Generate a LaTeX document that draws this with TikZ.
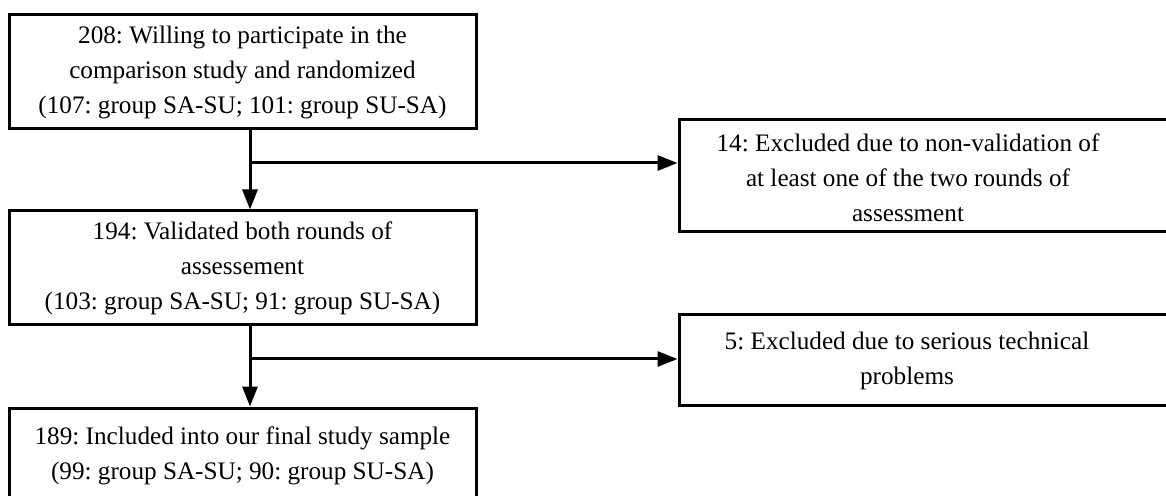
\documentclass[tikz,border=0pt]{standalone}
\usepackage{fontspec}
\setmainfont{Liberation Serif}
\usetikzlibrary{arrows.meta}
\frenchspacing
\begin{document}
\begin{tikzpicture}[x=0.5pt,y=-0.5pt,
  box/.style={draw=black, line width=1.5pt, rectangle, inner sep=0pt},
  txt/.style={align=center, inner sep=0pt, font=\fontsize{12.6pt}{17.5pt}\selectfont},
  conn/.style={line width=1.5pt},
  arr/.style={conn, -{Triangle[length=10pt,width=7.5pt]}}]
\clip (0,0) rectangle (1166,496);
\fill[white] (0,0) rectangle (1166,496);
% left column
\node[box, txt, minimum width=233.5pt, minimum height=57pt] (A) at (242.5,72)
  {208: Willing to participate in the\\ comparison study and randomized\\ (107: group SA-SU; 101: group SU-SA)};
\node[box, txt, minimum width=233.5pt, minimum height=57pt] (B) at (242.5,268)
  {194: Validated both rounds of\\ assessement\\ (103: group SA-SU; 91: group SU-SA)};
\node[box, txt, minimum width=233.5pt, minimum height=47.5pt] (C) at (242.5,455.5)
  {189: Included into our final study sample\\ (99: group SA-SU; 90: group SU-SA)};
% right column
\node[box, minimum width=250.5pt, minimum height=56pt] (D) at (929.5,176) {};
\node[txt] (Dt) at (908,178)
  {14: Excluded due to non-validation of\\ at least one of the two rounds of\\ assessment};
\node[box, minimum width=250.5pt, minimum height=45pt] (E) at (929.5,360) {};
\node[txt] (Et) at (907,361)
  {5: Excluded due to serious technical\\ problems};
% connectors
\coordinate (j1) at (250,163);
\coordinate (j2) at (250,359);
\draw[arr] (A.south -| j1) -- (B.north -| j1);
\draw[arr] (j1) -- (j1 -| D.west);
\draw[arr] (B.south -| j2) -- (C.north -| j2);
\draw[arr] (j2) -- (j2 -| E.west);
\end{tikzpicture}
\end{document}
